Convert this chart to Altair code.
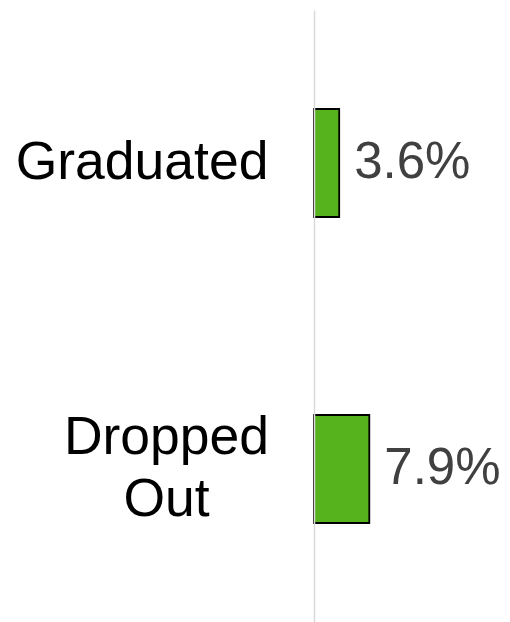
import altair as alt
import pandas as pd

categories = ["Graduated", "Dropped Out"]
values = [3.6, 7.9]
value_labels = ["3.6%", "7.9%"]

df = pd.DataFrame({"category": categories, "value": values, "label": value_labels})

is_two_line = "datum.value == 'Dropped Out'"

y_enc = alt.Y(
    "category:N",
    sort=categories,
    scale=alt.Scale(paddingInner=0.647, paddingOuter=0.3235),
    axis=alt.Axis(
        title=None,
        ticks=False,
        grid=False,
        domain=True,
        domainColor="#d9d9d9",
        domainWidth=1.5,
        labelFont="Liberation Sans",
        labelFontSize=53.5,
        labelColor="#000000",
        labelPadding={"condition": {"test": is_two_line, "value": 148}, "value": 46},
        labelAlign={"condition": {"test": is_two_line, "value": "center"}, "value": "right"},
        labelOffset={"condition": {"test": is_two_line, "value": -31}, "value": 0},
        labelBaseline="middle",
        labelLineHeight=62,
        labelLimit=400,
        zindex=1,
        labelExpr="datum.value == 'Dropped Out' ? ['Dropped', 'Out'] : datum.label",
    ),
)

x_enc = alt.X(
    "value:Q",
    scale=alt.Scale(domain=[0, 26.86], nice=False, zero=True),
    axis=None,
)

bars = alt.Chart(df).mark_bar(
    color="#56b31e", stroke="#000000", strokeWidth=1.8
).encode(x=x_enc, y=y_enc)

texts = alt.Chart(df).mark_text(
    align="left", baseline="middle", dx=15,
    font="Liberation Sans", fontSize=51, color="#404040"
).encode(x=alt.X("value:Q"), y=alt.Y("category:N", sort=categories), text="label:N")

chart = alt.layer(bars, texts).properties(
    width=188,
    height=612,
    autosize=alt.AutoSizeParams(type="none"),
    padding={"left": 306, "top": 2, "right": 0, "bottom": 0},
).configure_view(stroke=None)

chart.save("out.html", embed_options={"renderer": "svg", "actions": False})
